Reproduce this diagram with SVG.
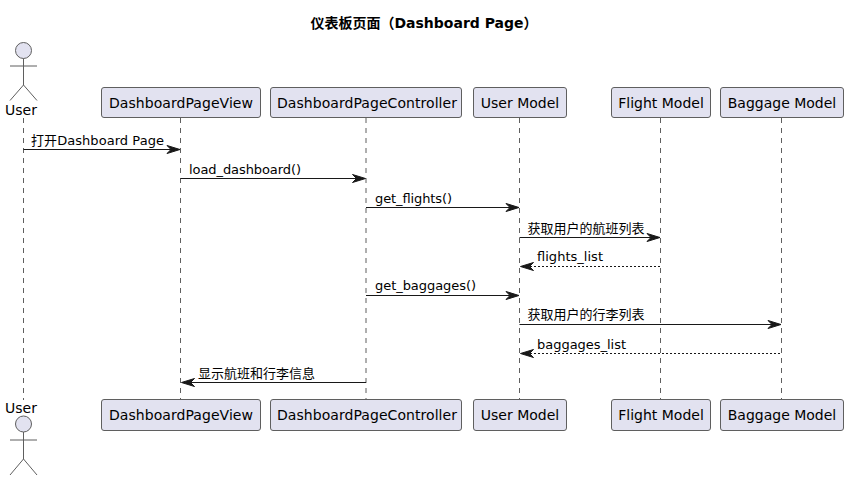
<svg xmlns="http://www.w3.org/2000/svg" width="848" height="480" viewBox="0 0 848 480">
<style>
text{font-family:"DejaVu Sans","Noto Sans CJK SC",sans-serif;fill:#000}
.t{font-size:14px;font-weight:bold}
.p{font-size:14px}
.a{font-size:14px}
.m{font-size:13px}
.box{fill:#E2E2F0;stroke:#5F5F5F;stroke-width:1}
.ll{stroke:#5F5F5F;stroke-width:1;stroke-dasharray:5,5;fill:none}
.act{fill:#E2E2F0;stroke:#5F5F5F;stroke-width:1}
.ln{fill:none;stroke:#5F5F5F;stroke-width:1}
.c{stroke:#181818;stroke-width:1.2;fill:none}
.d{stroke-dasharray:2,2}
.h{fill:#181818;stroke:#181818}
</style>
<defs>
<g id="fwd"><path class="h" d="M-13,-4 L0,0 L-13,4 L-9,0 Z"/></g>
<g id="back"><path class="h" d="M13,-4 L0,0 L13,4 L9,0 Z"/></g>
</defs>
<text class="t" x="424" y="28" text-anchor="middle">仪表板页面（Dashboard Page）</text>
<g id="lifelines">
<line class="ll" x1="23.5" y1="118" x2="23.5" y2="400"/>
<line class="ll" x1="180.5" y1="118" x2="180.5" y2="400"/>
<line class="ll" x1="366" y1="118" x2="366" y2="400"/>
<line class="ll" x1="519.5" y1="118" x2="519.5" y2="400"/>
<line class="ll" x1="660.5" y1="118" x2="660.5" y2="400"/>
<line class="ll" x1="781.5" y1="118" x2="781.5" y2="400"/>
</g>
<g id="connectors">
<line class="c" x1="23.5" y1="149.5" x2="178" y2="149.5"/><use href="#fwd" x="180" y="149.5"/>
<line class="c" x1="180.5" y1="178.5" x2="363" y2="178.5"/><use href="#fwd" x="365.5" y="178.5"/>
<line class="c" x1="366" y1="207.5" x2="517" y2="207.5"/><use href="#fwd" x="519" y="207.5"/>
<line class="c" x1="519.5" y1="237.5" x2="658" y2="237.5"/><use href="#fwd" x="660" y="237.5"/>
<line class="c d" x1="522" y1="266.5" x2="660.5" y2="266.5"/><use href="#back" x="520.5" y="266.5"/>
<line class="c" x1="366" y1="295.5" x2="517" y2="295.5"/><use href="#fwd" x="519" y="295.5"/>
<line class="c" x1="519.5" y1="324.5" x2="779" y2="324.5"/><use href="#fwd" x="781" y="324.5"/>
<line class="c d" x1="522" y1="353.5" x2="781.5" y2="353.5"/><use href="#back" x="520.5" y="353.5"/>
<line class="c" x1="183" y1="382.5" x2="366" y2="382.5"/><use href="#back" x="181.5" y="382.5"/>
</g>
<g id="labels">
<text class="m" x="31" y="145" textLength="133">打开Dashboard Page</text>
<text class="m" x="189" y="174" textLength="112">load_dashboard()</text>
<text class="m" x="375" y="203" textLength="77">get_flights()</text>
<text class="m" x="527.5" y="232.500">获取用户的航班列表</text>
<text class="m" x="537" y="261" textLength="66">flights_list</text>
<text class="m" x="375" y="290" textLength="101">get_baggages()</text>
<text class="m" x="527.5" y="319">获取用户的行李列表</text>
<text class="m" x="537" y="349" textLength="89">baggages_list</text>
<text class="m" x="198" y="378">显示航班和行李信息</text>
</g>
<g id="user-top">
<circle class="act" cx="23.500" cy="50.500" r="8"/>
<path class="ln" d="M23.500,58.500V85M10,66H37M23.500,85L10,100.500M23.500,85L37,100.500"/>
<text class="a" x="5" y="115" textLength="32">User</text>
</g>
<g id="user-bottom">
<text class="a" x="5" y="413" textLength="32">User</text>
<circle class="act" cx="23.500" cy="424" r="8"/>
<path class="ln" d="M23.500,432V459M10,440H37M23.500,459L10,475M23.500,459L37,475"/>
</g>
<g id="view-top"><rect class="box" x="101.500" y="87.500" width="159" height="30" rx="2.500"/><text class="p" x="109" y="107.500" textLength="144">DashboardPageView</text></g>
<g id="controller-top"><rect class="box" x="270.500" y="87.500" width="191" height="30" rx="2.500"/><text class="p" x="277" y="107.500" textLength="180">DashboardPageController</text></g>
<g id="user-model-top"><rect class="box" x="473.500" y="87.500" width="93" height="30" rx="2.500"/><text class="p" x="520" y="107.500" text-anchor="middle">User Model</text></g>
<g id="flight-model-top"><rect class="box" x="611.500" y="87.500" width="99" height="30" rx="2.500"/><text class="p" x="661" y="107.500" text-anchor="middle">Flight Model</text></g>
<g id="baggage-model-top"><rect class="box" x="720.500" y="87.500" width="123" height="30" rx="2.500"/><text class="p" x="782" y="107.500" text-anchor="middle">Baggage Model</text></g>
<g id="view-bottom"><rect class="box" x="101.500" y="399.500" width="159" height="31" rx="2.500"/><text class="p" x="109" y="420" textLength="144">DashboardPageView</text></g>
<g id="controller-bottom"><rect class="box" x="270.500" y="399.500" width="191" height="31" rx="2.500"/><text class="p" x="277" y="420" textLength="180">DashboardPageController</text></g>
<g id="user-model-bottom"><rect class="box" x="473.500" y="399.500" width="93" height="31" rx="2.500"/><text class="p" x="520" y="420" text-anchor="middle">User Model</text></g>
<g id="flight-model-bottom"><rect class="box" x="611.500" y="399.500" width="99" height="31" rx="2.500"/><text class="p" x="661" y="420" text-anchor="middle">Flight Model</text></g>
<g id="baggage-model-bottom"><rect class="box" x="720.500" y="399.500" width="123" height="31" rx="2.500"/><text class="p" x="782" y="420" text-anchor="middle">Baggage Model</text></g>
</svg>
